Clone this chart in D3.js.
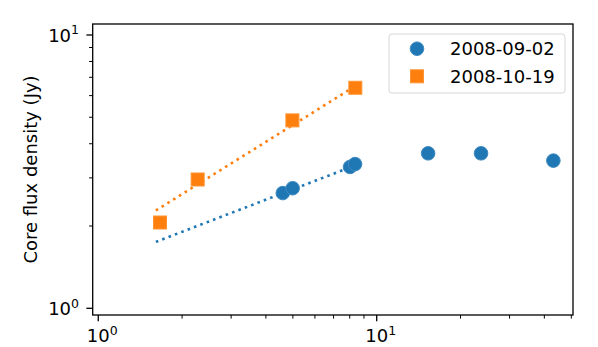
<!DOCTYPE html>
<meta charset="utf-8">
<style>
    body { margin: 0; background: #fff; }
    text { font-family: "DejaVu Sans", sans-serif; fill: #000; }
    .spine { fill: none; stroke: #000; stroke-width: 1.3px; }
</style>
<svg width="598" height="347"></svg>
<script src="https://d3js.org/d3.v7.min.js"></script>
<script>
    // frequency (GHz) and core flux density (Jy)
    var sepFreq = [4.6, 4.99, 8.02, 8.36, 15.3, 23.7, 43.1];
    var sepFlux = [2.64, 2.75, 3.29, 3.37, 3.69, 3.69, 3.47];
    var octFreq = [1.666, 2.275, 4.98, 8.38];
    var octFlux = [2.06, 2.96, 4.87, 6.41];

    // power-law fit end points
    var fitFreq = [1.61, 8.88];
    var sepFit = [1.75, 3.41];
    var octFit = [2.28, 6.75];

    var seriesNames = ["2008-09-02", "2008-10-19"];
    var xMajor = [1, 10];
    var yMajor = [1, 10];
    var xMinor = [2, 3, 4, 5, 6, 7, 8, 9, 20, 30, 40, 50];
    var yMinor = [2, 3, 4, 5, 6, 7, 8, 9];

    var blue = "#1f77b4", orange = "#ff7f0e";

    var svg = d3.select("svg");
    var mLeft = 92.7, mRight = 573, mTop = 24, mBottom = 315;

    var x = d3.scaleLog().domain([0.955, 50.7]).range([mLeft, mRight]);
    var y = d3.scaleLog().domain([0.945, 10.97]).range([mBottom, mTop]);

    var ax = svg.append("g");
    ax.selectAll(".xmin").data(xMinor).enter().append("line")
        .attr("x1", function(d) { return x(d); }).attr("x2", function(d) { return x(d); })
        .attr("y1", mBottom).attr("y2", mBottom + 3.6)
        .attr("stroke", "#000").attr("stroke-width", 1);
    ax.selectAll(".xmaj").data(xMajor).enter().append("line")
        .attr("x1", function(d) { return x(d); }).attr("x2", function(d) { return x(d); })
        .attr("y1", mBottom).attr("y2", mBottom + 6.3)
        .attr("stroke", "#000").attr("stroke-width", 1.3);
    ax.selectAll(".ymin").data(yMinor).enter().append("line")
        .attr("y1", function(d) { return y(d); }).attr("y2", function(d) { return y(d); })
        .attr("x1", mLeft).attr("x2", mLeft - 3.6)
        .attr("stroke", "#000").attr("stroke-width", 1);
    ax.selectAll(".ymaj").data(yMajor).enter().append("line")
        .attr("y1", function(d) { return y(d); }).attr("y2", function(d) { return y(d); })
        .attr("x1", mLeft).attr("x2", mLeft - 6.3)
        .attr("stroke", "#000").attr("stroke-width", 1.3);

    function powLabel(sel, d) {
        var e = Math.round(Math.log10(d));
        sel.append("tspan").text("10");
        sel.append("tspan").text(e).attr("font-size", 12.5).attr("dy", -7.5);
    }

    ax.selectAll(".xl").data(xMajor).enter().append("text")
        .attr("x", function(d) { return x(d) + 4; })
        .attr("y", 342)
        .attr("text-anchor", "middle")
        .attr("font-size", 18)
        .each(function(d) { powLabel(d3.select(this), d); });

    ax.selectAll(".yl").data(yMajor).enter().append("text")
        .attr("x", 79)
        .attr("y", function(d) { return y(d) + 7; })
        .attr("text-anchor", "end")
        .attr("font-size", 18)
        .each(function(d) { powLabel(d3.select(this), d); });

    svg.append("text")
        .attr("transform", "translate(37," + ((mTop + mBottom) / 2) + ") rotate(-90)")
        .attr("text-anchor", "middle")
        .attr("font-size", 18)
        .text("Core flux density (Jy)");

    // fit lines
    var line = d3.line().x(function(d) { return x(d[0]); }).y(function(d) { return y(d[1]); });
    svg.append("path").datum(d3.zip(fitFreq, sepFit))
        .attr("d", line).attr("fill", "none").attr("stroke", blue)
        .attr("stroke-width", 2.6).attr("stroke-dasharray", "2.6,4.2");
    svg.append("path").datum(d3.zip(fitFreq, octFit))
        .attr("d", line).attr("fill", "none").attr("stroke", orange)
        .attr("stroke-width", 2.6).attr("stroke-dasharray", "2.6,4.2");

    // markers
    svg.append("g").selectAll("circle").data(d3.zip(sepFreq, sepFlux)).enter().append("circle")
        .attr("cx", function(d) { return x(d[0]); })
        .attr("cy", function(d) { return y(d[1]); })
        .attr("r", 6.8)
        .attr("fill", blue).attr("stroke", "#3f8bc2").attr("stroke-width", 1);

    var s = 13;
    svg.append("g").selectAll("rect").data(d3.zip(octFreq, octFlux)).enter().append("rect")
        .attr("x", function(d) { return x(d[0]) - s / 2; })
        .attr("y", function(d) { return y(d[1]) - s / 2; })
        .attr("width", s).attr("height", s)
        .attr("fill", orange).attr("stroke", "#ff9433").attr("stroke-width", 1);

    // spines
    svg.append("rect").attr("class", "spine")
        .attr("x", mLeft).attr("y", mTop).attr("width", mRight - mLeft).attr("height", mBottom - mTop);

    // legend
    var lg = svg.append("g");
    lg.append("rect").attr("x", 389).attr("y", 34).attr("width", 176).attr("height", 59)
        .attr("rx", 3).attr("fill", "#fff").attr("fill-opacity", 0.8)
        .attr("stroke", "#d6d6d6").attr("stroke-width", 1);
    var rows = [48.7, 76.3];
    lg.append("circle").attr("cx", 417).attr("cy", rows[0]).attr("r", 6.8)
        .attr("fill", blue).attr("stroke", "#3f8bc2").attr("stroke-width", 1);
    lg.append("rect").attr("x", 417 - s / 2).attr("y", rows[1] - s / 2).attr("width", s).attr("height", s)
        .attr("fill", orange).attr("stroke", "#ff9433").attr("stroke-width", 1);
    lg.selectAll(".lt").data(seriesNames).enter().append("text")
        .attr("x", 450).attr("y", function(d, i) { return rows[i] + 6.5; })
        .attr("font-size", 18)
        .text(function(d) { return d; });
</script>
